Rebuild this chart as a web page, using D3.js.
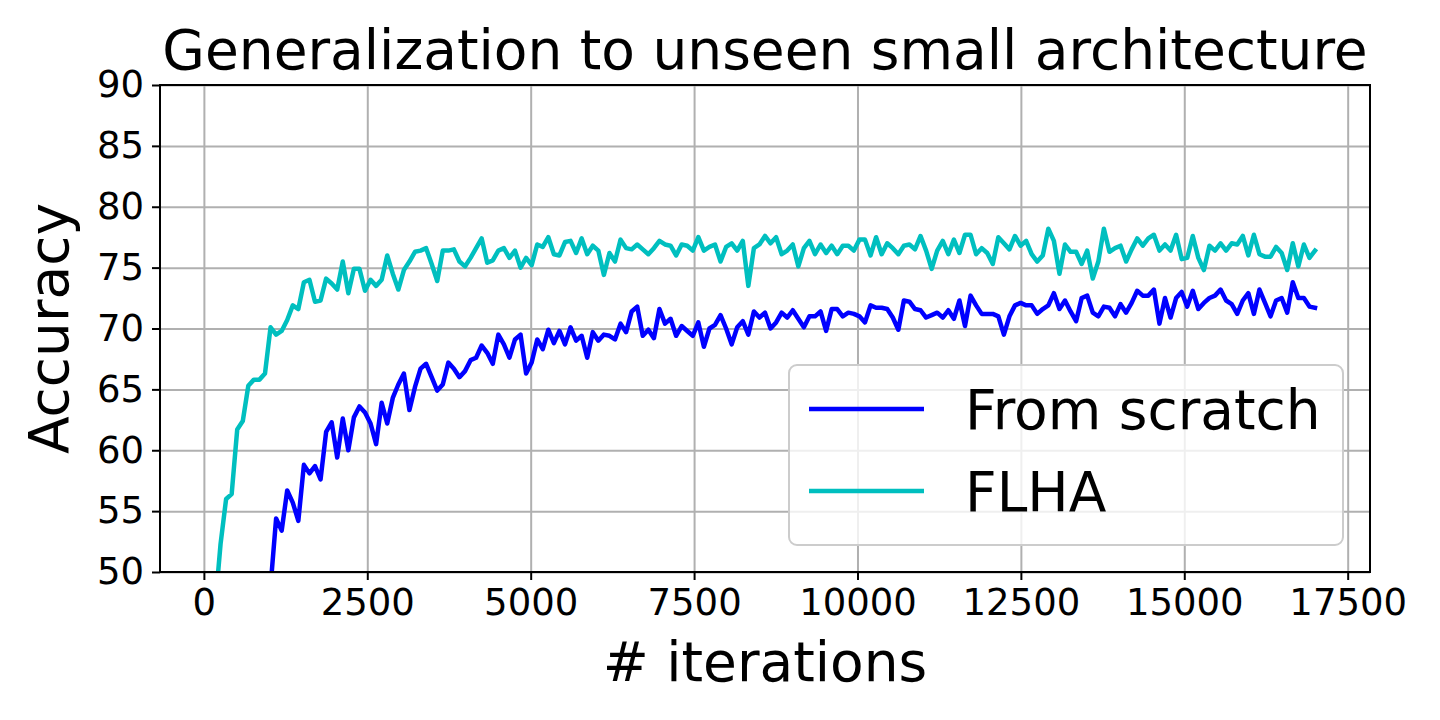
<!DOCTYPE html>
<html>
<head>
<meta charset="utf-8">
<script src="https://cdn.jsdelivr.net/npm/d3@7"></script>
<style>
  html, body { margin: 0; padding: 0; background: #fff; }
  svg { display: block; font-family: "DejaVu Sans", sans-serif; }
</style>
</head>
<body>
<svg id="chart" width="1440" height="720"></svg>
<script>
// iterations: one point every 85 iterations, from 170 to 17000
const iterations = d3.range(170, 17001, 85);

const flha = [
  47.0, 52.3, 56.0, 56.4, 61.7, 62.4, 65.3, 65.8, 65.8, 66.3,
  70.1, 69.5, 69.8, 70.7, 71.9, 71.6, 73.8, 74.0, 72.2, 72.3,
  74.1, 73.7, 73.2, 75.5, 72.9, 74.9, 74.9, 73.1, 74.0, 73.5,
  74.0, 76.0, 74.5, 73.2, 74.8, 75.5, 76.3, 76.4, 76.6, 75.3,
  73.9, 76.4, 76.4, 76.5, 75.5, 75.1, 75.8, 76.6, 77.4, 75.4,
  75.6, 76.4, 76.6, 75.8, 76.4, 75.0, 75.8, 75.2, 76.9, 76.7,
  77.5, 76.1, 76.0, 77.1, 77.2, 76.2, 77.4, 76.1, 76.8, 76.4,
  74.4, 76.2, 75.5, 77.3, 76.6, 76.5, 76.9, 76.5, 76.1, 76.6,
  77.2, 76.9, 76.8, 76.0, 76.9, 76.8, 76.4, 77.5, 76.4, 76.7,
  76.9, 75.5, 76.7, 77.0, 76.4, 77.2, 73.5, 76.6, 76.9, 77.6,
  77.0, 77.5, 76.1, 76.4, 76.9, 75.1, 76.6, 77.2, 76.1, 76.9,
  76.2, 76.8, 76.1, 76.8, 76.8, 76.4, 77.3, 77.3, 76.0, 77.5,
  76.1, 77.0, 76.6, 76.1, 76.8, 76.9, 76.5, 77.6, 76.4, 74.9,
  76.4, 77.2, 76.1, 77.3, 76.2, 77.7, 77.7, 76.1, 76.6, 76.2,
  75.3, 77.5, 77.0, 76.5, 77.6, 76.8, 77.2, 76.1, 75.5, 76.0,
  78.2, 77.2, 74.5, 76.9, 76.3, 76.3, 75.3, 76.4, 74.1, 75.5,
  78.2, 76.3, 76.6, 76.8, 75.5, 76.5, 77.4, 76.8, 77.4, 77.7,
  76.4, 76.9, 76.4, 77.7, 75.7, 75.8, 77.6, 75.8, 74.8, 76.8,
  76.4, 77.0, 76.4, 77.0, 76.9, 77.6, 76.0, 77.7, 76.1, 75.9,
  75.9, 76.7, 76.2, 74.8, 77.0, 75.1, 76.9, 75.8, 76.4
];

const fromScratch = [
  30.0, 33.0, 36.0, 39.0, 41.0, 43.0, 44.5, 46.0, 47.0, 48.0,
  48.8, 54.4, 53.4, 56.7, 55.7, 54.2, 58.8, 58.1, 58.7, 57.6,
  61.5, 62.3, 59.4, 62.6, 60.0, 62.7, 63.6, 63.1, 62.2, 60.5,
  63.9, 62.2, 64.3, 65.4, 66.3, 63.3, 65.2, 66.7, 67.1, 66.0,
  64.9, 65.4, 67.2, 66.7, 66.0, 66.5, 67.4, 67.6, 68.6, 68.0,
  67.1, 69.5, 68.7, 67.6, 69.1, 69.5, 66.3, 67.2, 69.1, 68.3,
  69.9, 68.8, 69.8, 68.7, 70.1, 69.0, 69.4, 67.6, 69.7, 69.0,
  69.5, 69.4, 69.1, 70.4, 69.7, 71.4, 71.8, 69.4, 69.9, 69.2,
  71.6, 70.4, 70.8, 69.4, 70.2, 69.8, 69.4, 70.5, 68.5, 70.0,
  70.3, 71.1, 70.0, 68.7, 70.1, 70.6, 69.5, 71.4, 70.9, 71.3,
  70.0, 70.5, 71.3, 70.9, 71.5, 70.8, 70.1, 71.0, 71.0, 71.4,
  69.8, 71.6, 71.6, 71.0, 71.3, 71.2, 71.0, 70.5, 71.9, 71.7,
  71.7, 71.6, 70.9, 69.9, 72.3, 72.2, 71.6, 71.5, 70.9, 71.1,
  71.3, 70.9, 71.5, 70.8, 72.3, 70.2, 72.7, 71.9, 71.2, 71.2,
  71.2, 71.0, 69.5, 71.0, 71.9, 72.1, 71.9, 71.9, 71.2, 71.6,
  71.9, 72.9, 71.6, 72.3, 71.4, 70.6, 72.5, 72.7, 71.3, 71.0,
  71.8, 71.7, 71.0, 72.0, 71.3, 72.1, 73.1, 72.7, 72.7, 73.2,
  70.4, 72.5, 70.9, 72.5, 73.0, 71.8, 73.1, 71.6, 72.1, 72.5,
  72.7, 73.2, 72.3, 72.0, 71.2, 72.3, 72.9, 71.2, 73.2, 72.1,
  71.0, 72.3, 72.5, 71.3, 73.8, 72.5, 72.5, 71.8, 71.7
];

const xTicks = [0, 2500, 5000, 7500, 10000, 12500, 15000, 17500];
const yTicks = [50, 55, 60, 65, 70, 75, 80, 85, 90];

const series = [
  { name: "From scratch", values: fromScratch, color: "#0000ff" },
  { name: "FLHA", values: flha, color: "#00bfbf" }
];

const svg = d3.select("#chart");
const plot = { left: 160, right: 1370, top: 85, bottom: 572 };

// matplotlib-style 5% margin on x
const [x0, x1] = d3.extent(iterations);
const pad = (x1 - x0) * 0.05;
const x = d3.scaleLinear().domain([x0 - pad, x1 + pad]).range([plot.left, plot.right]);
const y = d3.scaleLinear().domain([50, 90]).range([plot.bottom, plot.top]);

// grid
svg.append("g")
  .attr("transform", `translate(0,${plot.bottom})`)
  .call(d3.axisBottom(x).tickValues(xTicks).tickSize(-(plot.bottom - plot.top)).tickFormat(""))
  .call(g => g.select(".domain").remove())
  .call(g => g.selectAll("line").attr("stroke", "#b0b0b0").attr("stroke-width", 2));
svg.append("g")
  .attr("transform", `translate(${plot.left},0)`)
  .call(d3.axisLeft(y).tickValues(yTicks).tickSize(-(plot.right - plot.left)).tickFormat(""))
  .call(g => g.select(".domain").remove())
  .call(g => g.selectAll("line").attr("stroke", "#b0b0b0").attr("stroke-width", 2));

svg.append("clipPath").attr("id", "clip")
  .append("rect").attr("x", plot.left).attr("y", plot.top)
  .attr("width", plot.right - plot.left).attr("height", plot.bottom - plot.top);

const line = d3.line()
  .x((d, i) => x(iterations[i]))
  .y(d => y(d));

svg.append("g").attr("clip-path", "url(#clip)")
  .selectAll("path")
  .data(series)
  .join("path")
  .attr("d", d => line(d.values))
  .attr("fill", "none")
  .attr("stroke", d => d.color)
  .attr("stroke-width", 4.5)
  .attr("stroke-linejoin", "round")
  .attr("stroke-linecap", "square");

// spines
svg.append("rect")
  .attr("x", plot.left).attr("y", plot.top)
  .attr("width", plot.right - plot.left).attr("height", plot.bottom - plot.top)
  .attr("fill", "none").attr("stroke", "#000").attr("stroke-width", 2);

// axes
const xAxis = svg.append("g")
  .attr("transform", `translate(0,${plot.bottom})`)
  .call(d3.axisBottom(x).tickValues(xTicks).tickSize(8).tickPadding(9).tickFormat(d3.format("d")));
const yAxis = svg.append("g")
  .attr("transform", `translate(${plot.left},0)`)
  .call(d3.axisLeft(y).tickValues(yTicks).tickSize(8).tickPadding(8).tickFormat(d3.format("d")));
[xAxis, yAxis].forEach(a => {
  a.select(".domain").remove();
  a.selectAll("line").attr("stroke", "#000").attr("stroke-width", 2);
  a.selectAll("text").attr("font-family", "DejaVu Sans").attr("font-size", 37).attr("fill", "#000");
});

// title and labels
svg.append("text")
  .attr("x", (plot.left + plot.right) / 2).attr("y", 69)
  .attr("text-anchor", "middle").attr("font-size", 55)
  .text("Generalization to unseen small architecture");
svg.append("text")
  .attr("x", (plot.left + plot.right) / 2).attr("y", 681)
  .attr("text-anchor", "middle").attr("font-size", 55)
  .text("# iterations");
svg.append("text")
  .attr("transform", `translate(68,${(plot.top + plot.bottom) / 2}) rotate(-90)`)
  .attr("text-anchor", "middle").attr("font-size", 55)
  .text("Accuracy");

// legend
const legend = svg.append("g");
legend.append("rect")
  .attr("x", 789).attr("y", 365).attr("width", 554).attr("height", 180)
  .attr("rx", 8)
  .attr("fill", "#fff").attr("fill-opacity", 0.8)
  .attr("stroke", "#cccccc").attr("stroke-width", 2);
series.forEach((s, i) => {
  const ly = 409 + i * 82;
  legend.append("line")
    .attr("x1", 809).attr("x2", 924).attr("y1", ly).attr("y2", ly)
    .attr("stroke", s.color).attr("stroke-width", 4.5);
  legend.append("text")
    .attr("x", 965).attr("y", ly + 20)
    .attr("font-size", 55)
    .text(s.name);
});
</script>
</body>
</html>
